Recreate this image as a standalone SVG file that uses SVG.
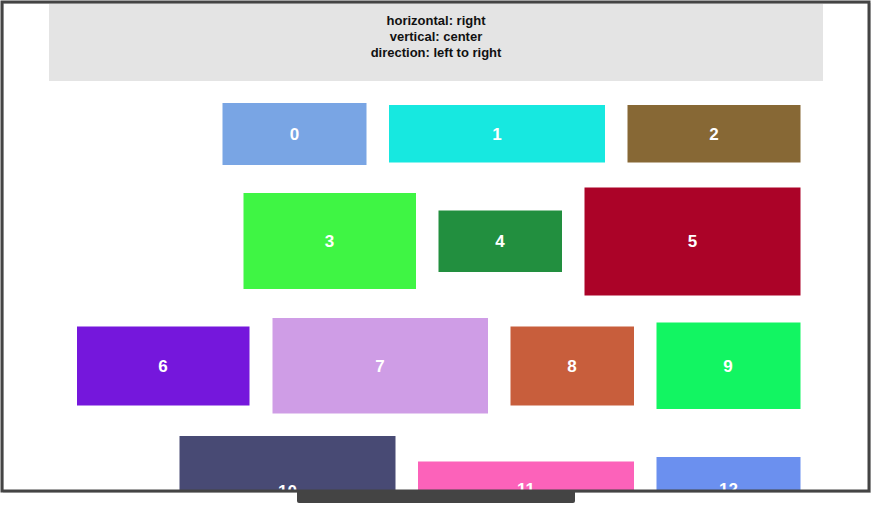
<svg xmlns="http://www.w3.org/2000/svg" width="872" height="506" viewBox="0 0 872 506">
<style>
.hdr{font-family:"Liberation Sans",Arial,sans-serif;font-weight:bold;font-size:13px;fill:#111;text-anchor:middle}
.lbl{font-family:"Liberation Sans",Arial,sans-serif;font-weight:bold;font-size:17px;fill:#fff;text-anchor:middle;dominant-baseline:central}
</style>
<defs>
<clipPath id="inner"><rect x="3" y="3" width="865" height="487"/></clipPath>
</defs>
<rect width="872" height="506" fill="#fff"/>
<g clip-path="url(#inner)">
<g id="header">
<rect x="49" y="4" width="774" height="77" fill="#e4e4e4"/>
<text class="hdr" x="436" y="24.5">horizontal: right</text>
<text class="hdr" x="436" y="40.5">vertical: center</text>
<text class="hdr" x="436" y="56.5">direction: left to right</text>
</g>
<g id="connectors"/>
<g id="n0"><rect x="222.5" y="103" width="144" height="62" fill="#79a5e4"/><text class="lbl" x="294.5" y="134">0</text></g>
<g id="n1"><rect x="389" y="105" width="216" height="57.5" fill="#17e8e0"/><text class="lbl" x="497" y="134">1</text></g>
<g id="n2"><rect x="627.5" y="105" width="173" height="57.5" fill="#876835"/><text class="lbl" x="714" y="134">2</text></g>
<g id="n3"><rect x="243.5" y="193" width="172.5" height="96" fill="#3ff544"/><text class="lbl" x="329.5" y="241">3</text></g>
<g id="n4"><rect x="438.5" y="210.5" width="123.5" height="61.5" fill="#228f3f"/><text class="lbl" x="500" y="241">4</text></g>
<g id="n5"><rect x="584.5" y="187.5" width="216" height="108" fill="#ab0328"/><text class="lbl" x="692.5" y="241">5</text></g>
<g id="n6"><rect x="77" y="326.5" width="172.5" height="79" fill="#7517dc"/><text class="lbl" x="163" y="366">6</text></g>
<g id="n7"><rect x="272.5" y="318" width="215.5" height="95.5" fill="#cf9de6"/><text class="lbl" x="380" y="366">7</text></g>
<g id="n8"><rect x="510.5" y="326.5" width="123.5" height="79" fill="#c85e3c"/><text class="lbl" x="572" y="366">8</text></g>
<g id="n9"><rect x="656.5" y="322.5" width="144" height="86.5" fill="#12f562"/><text class="lbl" x="728" y="366">9</text></g>
<g id="n10"><rect x="179.5" y="436" width="216" height="110" fill="#484a74"/><text class="lbl" x="287.5" y="491">10</text></g>
<g id="n11"><rect x="418" y="461.5" width="216" height="56" fill="#fc62ba"/><text class="lbl" x="526" y="489.5">11</text></g>
<g id="n12"><rect x="656.5" y="457" width="144" height="64" fill="#6b90ef"/><text class="lbl" x="728.5" y="489">12</text></g>
</g>
<g id="frame">
<rect x="3.5" y="3.5" width="867" height="489" fill="none" stroke="#d8d8d8" stroke-width="1"/>
<rect x="2" y="2" width="867" height="489" fill="none" stroke="#444" stroke-width="3"/>
<path d="M297 490 H575 V501 Q575 503 573 503 H299 Q297 503 297 501 Z" fill="#444"/>
</g>
</svg>
